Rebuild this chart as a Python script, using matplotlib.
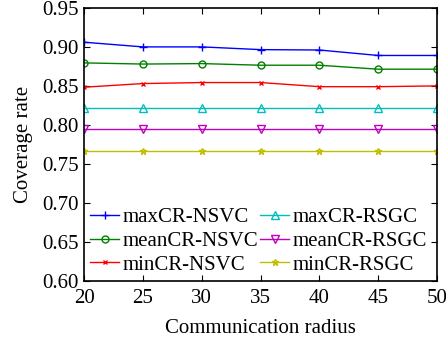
import numpy as np
import matplotlib
matplotlib.use('Agg')
import matplotlib.pyplot as plt

plt.rcParams['font.family'] = ['Liberation Serif', 'DejaVu Serif']
plt.rcParams['mathtext.fontset'] = 'stix'

# communication radius on x axis
radius = [20, 25, 30, 35, 40, 45, 50]

max_nsvc = [0.906, 0.900, 0.900, 0.8965, 0.896, 0.889, 0.889]
mean_nsvc = [0.8795, 0.878, 0.8786, 0.8765, 0.8765, 0.8714, 0.8714]
min_nsvc = [0.8483, 0.853, 0.8543, 0.8543, 0.849, 0.849, 0.850]
max_rsgc = [0.8218, 0.8218, 0.8218, 0.8218, 0.8218, 0.8218, 0.8218]
mean_rsgc = [0.7945, 0.7945, 0.7945, 0.7945, 0.7945, 0.7945, 0.7945]
min_rsgc = [0.766, 0.766, 0.766, 0.766, 0.766, 0.766, 0.766]

yticks = [0.60, 0.65, 0.70, 0.75, 0.80, 0.85, 0.90, 0.95]

fig = plt.figure(figsize=(4.48, 3.43), dpi=100)
ax = fig.add_axes([0.1875, 0.181, 0.788, 0.796])

ax.plot(radius, max_nsvc, color='b', marker='+', ms=6, mew=1, lw=1, label='maxCR-NSVC')
ax.plot(radius, mean_nsvc, color='g', marker='o', ms=5, mfc='none', mew=1, lw=1, label='meanCR-NSVC')
ax.plot(radius, min_nsvc, color='r', marker='x', ms=3.5, mew=1, lw=1, label='minCR-NSVC')
ax.plot(radius, max_rsgc, color='c', marker='^', ms=5.5, mfc='none', mew=1, lw=1, label='maxCR-RSGC')
ax.plot(radius, mean_rsgc, color='m', marker='v', ms=5.5, mfc='none', mew=1, lw=1, label='meanCR-RSGC')
ax.plot(radius, min_rsgc, color='y', marker='*', ms=5, mfc='none', mew=1, lw=1, label='minCR-RSGC')

ax.set_xlim(20, 50)
ax.set_ylim(0.60, 0.95)
ax.set_xticks(radius)
ax.set_yticks(yticks)
ax.set_yticklabels(['%.2f' % v for v in yticks])
ax.tick_params(axis='y', direction='in', right=True, labelsize=15, length=4, pad=4)
ax.tick_params(axis='x', direction='in', top=True, labelsize=15, length=4, pad=6)
for s in ax.spines.values():
    s.set_linewidth(1.2)

ax.set_xlabel('Communication radius', fontsize=15, labelpad=8)
ax.set_ylabel('Coverage rate', fontsize=15, labelpad=6)

ax.legend(ncol=2, loc='lower left', frameon=False, fontsize=15,
          handlelength=1.4, handletextpad=0.15, columnspacing=0.1,
          labelspacing=0.2, bbox_to_anchor=(0.0, 0.0), borderaxespad=0.1,
          borderpad=0.2)

fig.savefig('out.png', dpi=100)
